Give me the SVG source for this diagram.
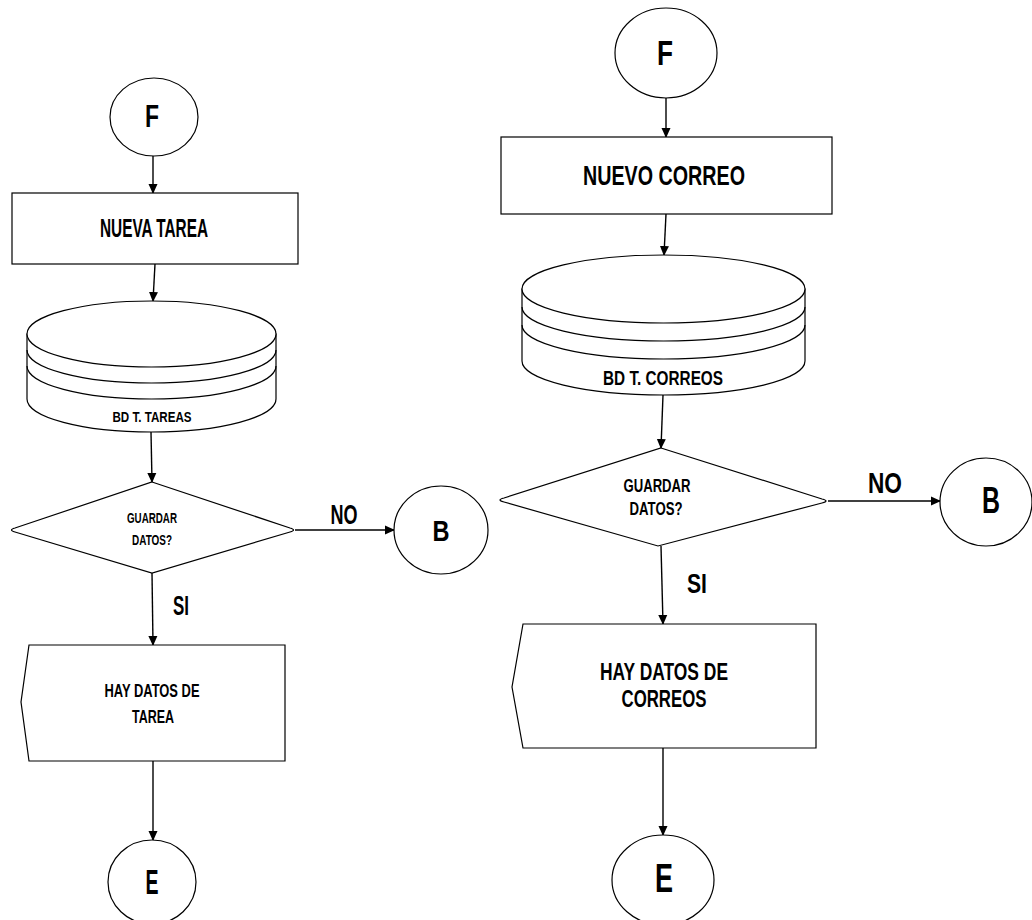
<svg xmlns="http://www.w3.org/2000/svg" width="1032" height="920" viewBox="0 0 1032 920">
<defs>
<style>
.s{fill:#fff;stroke:#000;stroke-width:1.2}
.l{fill:none;stroke:#000;stroke-width:1.2}
.c{fill:none;stroke:#000;stroke-width:1.4}
text{font-family:"Liberation Sans",Arial,sans-serif;font-weight:bold;fill:#000;text-anchor:middle}
</style>
<marker id="ah" markerWidth="10" markerHeight="10" refX="9" refY="5" orient="auto" markerUnits="userSpaceOnUse">
<path d="M0,0.5 L10,5 L0,9.5 Z" fill="#000"/>
</marker>
</defs>
<rect width="1032" height="920" fill="#fff"/>

<g id="connectors">
<line class="c" x1="153" y1="156" x2="153" y2="193" marker-end="url(#ah)"/>
<line class="c" x1="155" y1="264" x2="153" y2="301" marker-end="url(#ah)"/>
<line class="c" x1="151" y1="432" x2="152" y2="482" marker-end="url(#ah)"/>
<line class="c" x1="152" y1="573" x2="153" y2="645" marker-end="url(#ah)"/>
<line class="c" x1="153" y1="761" x2="153" y2="840" marker-end="url(#ah)"/>
<line class="c" x1="295" y1="530" x2="394" y2="530" marker-end="url(#ah)"/>
<line class="c" x1="666" y1="98" x2="666" y2="137" marker-end="url(#ah)"/>
<line class="c" x1="666" y1="214" x2="664" y2="255" marker-end="url(#ah)"/>
<line class="c" x1="663" y1="395" x2="661" y2="448" marker-end="url(#ah)"/>
<line class="c" x1="661" y1="546" x2="663" y2="624" marker-end="url(#ah)"/>
<line class="c" x1="663" y1="748" x2="663" y2="835" marker-end="url(#ah)"/>
<line class="c" x1="828" y1="501" x2="940" y2="501" marker-end="url(#ah)"/>
<text x="344" y="524" font-size="27" textLength="27" lengthAdjust="spacingAndGlyphs">NO</text>
<text x="181" y="615" font-size="28" textLength="16" lengthAdjust="spacingAndGlyphs">SI</text>
<text x="885" y="493" font-size="30" textLength="34" lengthAdjust="spacingAndGlyphs">NO</text>
<text x="697" y="593" font-size="28" textLength="20" lengthAdjust="spacingAndGlyphs">SI</text>
</g>

<g id="left-F">
<ellipse class="s" cx="154" cy="117" rx="44" ry="39"/>
<text x="152" y="127" font-size="31" textLength="14" lengthAdjust="spacingAndGlyphs">F</text>
</g>
<g id="left-nueva-tarea">
<rect class="s" x="12" y="193" width="286" height="71"/>
<text x="154" y="237" font-size="25" textLength="108" lengthAdjust="spacingAndGlyphs">NUEVA TAREA</text>
</g>
<g id="left-bd-tareas">
<path class="s" d="M27,334 L27,399 A124.5,33 0 0 0 276,399 L276,334 Z"/>
<ellipse class="s" cx="151.5" cy="334" rx="124.5" ry="33"/>
<path class="l" d="M27,350 A124.5,33 0 0 0 276,350"/>
<path class="l" d="M27,366 A124.5,33 0 0 0 276,366"/>
<text x="152" y="422" font-size="15" textLength="79" lengthAdjust="spacingAndGlyphs">BD T. TAREAS</text>
</g>
<g id="left-guardar">
<path class="s" d="M152,482 L290,528 Q297,530 290,532 L152,573 L15,532 Q8,530 15,528 Z"/>
<text x="152" y="523" font-size="15" textLength="50" lengthAdjust="spacingAndGlyphs">GUARDAR</text>
<text x="152" y="545" font-size="15" textLength="40" lengthAdjust="spacingAndGlyphs">DATOS?</text>
</g>
<g id="left-B">
<ellipse class="s" cx="441" cy="530" rx="47" ry="44"/>
<text x="441" y="541" font-size="29" textLength="17" lengthAdjust="spacingAndGlyphs">B</text>
</g>
<g id="left-hay-datos">
<path class="s" d="M29,645 L285,645 L285,761 L29,761 L21,702 Z"/>
<text x="152" y="697" font-size="19" textLength="95" lengthAdjust="spacingAndGlyphs">HAY DATOS DE</text>
<text x="153" y="723" font-size="19" textLength="42" lengthAdjust="spacingAndGlyphs">TAREA</text>
</g>
<g id="left-E">
<ellipse class="s" cx="152" cy="882" rx="44" ry="42"/>
<text x="152" y="894" font-size="35" textLength="13" lengthAdjust="spacingAndGlyphs">E</text>
</g>

<g id="right-F">
<ellipse class="s" cx="666" cy="53" rx="51" ry="45"/>
<text x="665" y="65" font-size="35" textLength="16" lengthAdjust="spacingAndGlyphs">F</text>
</g>
<g id="right-nuevo-correo">
<rect class="s" x="501" y="137" width="331" height="77"/>
<text x="664" y="185" font-size="28" textLength="162" lengthAdjust="spacingAndGlyphs">NUEVO CORREO</text>
</g>
<g id="right-bd-correos">
<path class="s" d="M522,289 L522,361 A141.5,34 0 0 0 805,361 L805,289 Z"/>
<ellipse class="s" cx="663.5" cy="289" rx="141.5" ry="34"/>
<path class="l" d="M522,307 A141.5,34 0 0 0 805,307"/>
<path class="l" d="M522,325 A141.5,34 0 0 0 805,325"/>
<text x="663" y="385" font-size="21" textLength="120" lengthAdjust="spacingAndGlyphs">BD T. CORREOS</text>
</g>
<g id="right-guardar">
<path class="s" d="M661,448 L822,499 Q830,501 822,503 L658,546 L504,502 Q496,500 504,498 Z"/>
<text x="657" y="492" font-size="19" textLength="67" lengthAdjust="spacingAndGlyphs">GUARDAR</text>
<text x="656" y="515" font-size="19" textLength="53" lengthAdjust="spacingAndGlyphs">DATOS?</text>
</g>
<g id="right-B">
<ellipse class="s" cx="986" cy="502" rx="46" ry="44"/>
<text x="991" y="513" font-size="36" textLength="18" lengthAdjust="spacingAndGlyphs">B</text>
</g>
<g id="right-hay-datos">
<path class="s" d="M523,624 L816,624 L816,748 L523,748 L512,687 Z"/>
<text x="664" y="680" font-size="23" textLength="128" lengthAdjust="spacingAndGlyphs">HAY DATOS DE</text>
<text x="664" y="707" font-size="23" textLength="85" lengthAdjust="spacingAndGlyphs">CORREOS</text>
</g>
<g id="right-E">
<ellipse class="s" cx="663" cy="880" rx="51" ry="45"/>
<text x="664" y="892" font-size="40" textLength="18" lengthAdjust="spacingAndGlyphs">E</text>
</g>
</svg>
